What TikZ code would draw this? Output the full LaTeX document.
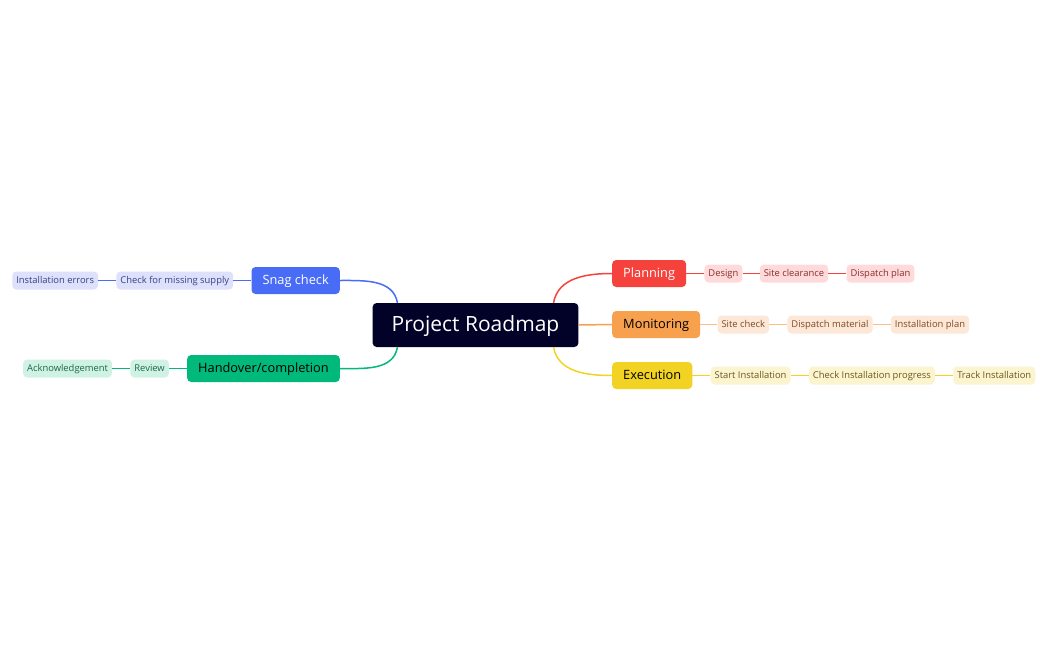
\documentclass[tikz,border=0pt]{standalone}
\usepackage{fontspec}
\setmainfont{Open Sans}
\usetikzlibrary{positioning}
\definecolor{root_navy}{RGB}{2,2,40}
\definecolor{plan_red}{RGB}{245,66,60}
\definecolor{plan_light}{RGB}{255,218,218}
\definecolor{plan_text}{RGB}{140,45,45}
\definecolor{mon_orange}{RGB}{247,160,77}
\definecolor{mon_line}{RGB}{250,190,135}
\definecolor{mon_light}{RGB}{253,231,214}
\definecolor{mon_text}{RGB}{125,75,40}
\definecolor{exec_yellow}{RGB}{242,210,34}
\definecolor{exec_light}{RGB}{252,243,207}
\definecolor{exec_text}{RGB}{105,90,30}
\definecolor{snag_blue}{RGB}{72,108,246}
\definecolor{snag_light}{RGB}{221,225,251}
\definecolor{snag_text}{RGB}{55,65,135}
\definecolor{hand_green}{RGB}{0,185,122}
\definecolor{hand_light}{RGB}{208,242,228}
\definecolor{hand_text}{RGB}{25,105,75}

\tikzset{
  root/.style={rectangle, rounded corners=4pt, fill=root_navy, text=white, font=\fontsize{21}{25}\selectfont, minimum height=44pt, inner xsep=19pt, text height=16pt, text depth=3pt},
  topic/.style={rectangle, rounded corners=4pt, font=\fontsize{12.8}{15}\selectfont, minimum height=27pt, inner xsep=11pt, text height=10pt, text depth=1.5pt},
  leaf/.style={rectangle, rounded corners=4pt, font=\fontsize{9.4}{12}\selectfont, minimum height=18pt, inner xsep=4pt, inner ysep=2pt, text height=7.5pt, text depth=1.5pt},
  branch/.style={line width=1.5pt},
  twig/.style={line width=1.3pt}
}

\begin{document}
\begin{tikzpicture}[x=1pt, y=-1pt]
  \useasboundingbox (0,0) rectangle (1048,650);

  % --- Central Node ---
  \node [root] (Roadmap) at (475.5,325) {Project Roadmap};

  % --- Begin Planning ---
  \node [topic, fill=plan_red, text=white, anchor=west] (Planning) at (612,273.5) {Planning};
  \node [leaf, fill=plan_light, text=plan_text, right=18pt of Planning] (design) {Design};
  \node [leaf, fill=plan_light, text=plan_text, right=17pt of design] (site_clearance) {Site clearance};
  \node [leaf, fill=plan_light, text=plan_text, right=18pt of site_clearance] (dispatch_plan) {Dispatch plan};
  \draw [plan_red, branch] ([xshift=-25pt]Roadmap.north east) to[out=80, in=180] (Planning.west);
  \draw [plan_red, twig] (Planning) -- (design) -- (site_clearance) -- (dispatch_plan);
  % --- End Planning ---

  % --- Begin Monitoring ---
  \node [topic, fill=mon_orange, text=black, anchor=west] (Monitoring) at (612,324.5) {Monitoring};
  \node [leaf, fill=mon_light, text=mon_text, right=17pt of Monitoring] (site_check) {Site check};
  \node [leaf, fill=mon_light, text=mon_text, right=18pt of site_check] (dispatch_material) {Dispatch material};
  \node [leaf, fill=mon_light, text=mon_text, right=18pt of dispatch_material] (installation_plan) {Installation plan};
  \draw [mon_orange, branch] (Roadmap.east) -- (Monitoring.west);
  \draw [mon_line, twig] (Monitoring) -- (site_check) -- (dispatch_material) -- (installation_plan);
  % --- End Monitoring ---

  % --- Begin Execution ---
  \node [topic, fill=exec_yellow, text=black, anchor=west] (Execution) at (612,375.5) {Execution};
  \node [leaf, fill=exec_light, text=exec_text, right=18pt of Execution] (start_installation) {Start Installation};
  \node [leaf, fill=exec_light, text=exec_text, right=18pt of start_installation] (check_progress) {Check Installation progress};
  \node [leaf, fill=exec_light, text=exec_text, right=18pt of check_progress] (track_installation) {Track Installation};
  \draw [exec_yellow, branch] ([xshift=-25pt]Roadmap.south east) to[out=-80, in=180] (Execution.west);
  \draw [exec_yellow, twig] (Execution) -- (start_installation) -- (check_progress) -- (track_installation);
  % --- End Execution ---

  % --- Begin Snag check ---
  \node [topic, fill=snag_blue, text=white, anchor=east] (Snag) at (340,280.5) {Snag check};
  \node [leaf, fill=snag_light, text=snag_text, left=18pt of Snag] (missing_supply) {Check for missing supply};
  \node [leaf, fill=snag_light, text=snag_text, left=18pt of missing_supply] (installation_errors) {Installation errors};
  \draw [snag_blue, branch] ([xshift=25pt]Roadmap.north west) to[out=100, in=0] (Snag.east);
  \draw [snag_blue, twig] (Snag) -- (missing_supply) -- (installation_errors);
  % --- End Snag check ---

  % --- Begin Handover ---
  \node [topic, fill=hand_green, text=black, anchor=east] (Handover) at (340,368.5) {Handover/completion};
  \node [leaf, fill=hand_light, text=hand_text, left=18pt of Handover] (review) {Review};
  \node [leaf, fill=hand_light, text=hand_text, left=18pt of review] (acknowledgement) {Acknowledgement};
  \draw [hand_green, branch] ([xshift=25pt]Roadmap.south west) to[out=-100, in=0] (Handover.east);
  \draw [hand_green, twig] (Handover) -- (review) -- (acknowledgement);
  % --- End Handover ---
\end{tikzpicture}
\end{document}
